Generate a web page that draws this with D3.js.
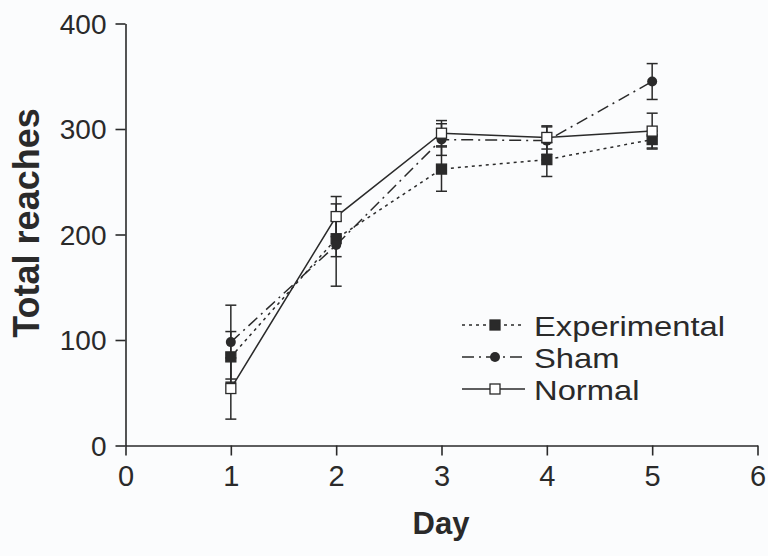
<!DOCTYPE html>
<html>
<head>
<meta charset="utf-8">
<script src="https://cdn.jsdelivr.net/npm/d3@7"></script>
<style>
  body { margin: 0; background: #fbfcfd; }
  svg { display: block; font-family: "Liberation Sans", Arial, sans-serif; }
</style>
</head>
<body>
<svg id="chart" width="768" height="556"></svg>
<script>
// values
var days = [1, 2, 3, 4, 5];
var xTicks = [0, 1, 2, 3, 4, 5, 6];
var yTicks = [0, 100, 200, 300, 400];

var experimental = [84, 196, 262, 271, 290];
var experimentalErr = [24, 17, 21, 16, 8];
var sham = [98, 190, 290, 289, 345];
var shamErr = [35, 39, 15, 13, 17];
var normal = [54, 217, 296, 292, 298];
var normalErr = [29, 19, 12, 11, 17];

var seriesNames = ["Experimental", "Sham", "Normal"];

var ink = "#2a2a2a";

var svg = d3.select("#chart");

var x = d3.scaleLinear().domain([0, 6]).range([125.5, 757.5]);
var y = d3.scaleLinear().domain([0, 400]).range([445.5, 23.5]);

var series = [
    { name: seriesNames[0], values: experimental, err: experimentalErr, dash: "3,4", marker: "fsquare" },
    { name: seriesNames[1], values: sham, err: shamErr, dash: "12,5,2,5", marker: "circle" },
    { name: seriesNames[2], values: normal, err: normalErr, dash: null, marker: "osquare" }
];

// axes
var xAxis = svg.append("g")
    .attr("transform", "translate(0," + y(0) + ")")
    .call(d3.axisBottom(x).tickValues(xTicks).tickFormat(d3.format("d")).tickSize(10).tickSizeOuter(0));
var yAxis = svg.append("g")
    .attr("transform", "translate(" + x(0) + ",0)")
    .call(d3.axisLeft(y).tickValues(yTicks).tickFormat(d3.format("d")).tickSize(10).tickSizeOuter(0));

[xAxis, yAxis].forEach(function(a) {
    a.select(".domain").attr("stroke", ink).attr("stroke-width", 1.6);
    a.selectAll(".tick line").attr("stroke", ink).attr("stroke-width", 1.6);
    a.selectAll(".tick text").attr("fill", ink).attr("font-family", "Liberation Sans, Arial, sans-serif");
});
xAxis.selectAll(".tick text").attr("font-size", 29).attr("dy", 0).attr("y", 40);
yAxis.selectAll(".tick text").attr("font-size", 28).attr("x", -19).attr("dy", "0.35em");

// axis titles
svg.append("text")
    .attr("x", 441).attr("y", 534)
    .attr("text-anchor", "middle")
    .attr("font-size", 31).attr("font-weight", "bold").attr("fill", ink)
    .text("Day");
svg.append("text")
    .attr("transform", "translate(39,223) rotate(-90)")
    .attr("text-anchor", "middle")
    .attr("font-size", 36).attr("font-weight", "bold").attr("fill", ink)
    .text("Total reaches");

function drawMarker(g, type, cx, cy) {
    if (type === "circle") {
        g.append("circle").attr("cx", cx).attr("cy", cy).attr("r", 5).attr("fill", ink);
    } else {
        g.append("rect")
          .attr("x", cx - 5).attr("y", cy - 5)
          .attr("width", 10).attr("height", 10)
          .attr("fill", type === "fsquare" ? ink : "#fff")
          .attr("stroke", ink).attr("stroke-width", 1.3);
    }
}

var line = d3.line()
    .x(function(d) { return x(d.day); })
    .y(function(d) { return y(d.v); });

series.forEach(function(s) {
    var pts = days.map(function(d, i) { return { day: d, v: s.values[i], e: s.err[i] }; });
    var g = svg.append("g");
    g.append("path")
      .datum(pts)
      .attr("d", line)
      .attr("fill", "none")
      .attr("stroke", ink)
      .attr("stroke-width", 1.5)
      .attr("stroke-dasharray", s.dash);
    pts.forEach(function(p) {
        var cx = x(p.day);
        g.append("line")
          .attr("x1", cx).attr("x2", cx)
          .attr("y1", y(p.v - p.e)).attr("y2", y(p.v + p.e))
          .attr("stroke", ink).attr("stroke-width", 1.5);
        [p.v - p.e, p.v + p.e].forEach(function(v) {
            g.append("line")
              .attr("x1", cx - 5.5).attr("x2", cx + 5.5)
              .attr("y1", y(v)).attr("y2", y(v))
              .attr("stroke", ink).attr("stroke-width", 1.5);
        });
    });
});

// markers on top
series.forEach(function(s) {
    var g = svg.append("g");
    days.forEach(function(d, i) {
        drawMarker(g, s.marker, x(d), y(s.values[i]));
    });
});

// legend
var legend = svg.append("g");
series.forEach(function(s, i) {
    var ly = 325 + i * 32;
    legend.append("line")
      .attr("x1", 462).attr("x2", 525)
      .attr("y1", ly).attr("y2", ly)
      .attr("stroke", ink).attr("stroke-width", 1.5)
      .attr("stroke-dasharray", s.dash);
    drawMarker(legend, s.marker, 495, ly);
    legend.append("text")
      .attr("transform", "translate(534," + (ly + 11) + ") scale(1.19,1)")
      .attr("font-size", 27.5).attr("fill", ink)
      .text(s.name);
});
</script>
</body>
</html>
